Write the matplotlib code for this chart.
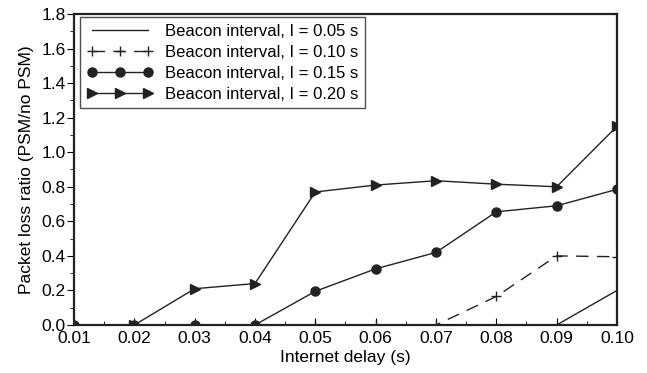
import numpy as np
import matplotlib.pyplot as plt

plt.rcParams['font.family'] = ['Liberation Sans', 'DejaVu Sans']

delay = [0.01, 0.02, 0.03, 0.04, 0.05, 0.06, 0.07, 0.08, 0.09, 0.10]
loss_005 = [0, 0, 0, 0, 0, 0, 0, 0, 0, 0.20]
loss_010 = [0, 0, 0, 0, 0, 0, 0, 0.165, 0.40, 0.395]
loss_015 = [0, 0, 0, 0, 0.195, 0.325, 0.42, 0.655, 0.69, 0.785]
loss_020 = [0, 0, 0.21, 0.24, 0.77, 0.81, 0.835, 0.815, 0.80, 1.15]
labels = ["Beacon interval, I = 0.05 s", "Beacon interval, I = 0.10 s",
          "Beacon interval, I = 0.15 s", "Beacon interval, I = 0.20 s"]

fig = plt.figure(figsize=(6.47, 3.73), dpi=100)
ax = fig.add_axes([0.1144, 0.1287, 0.8392, 0.8338])

ax.plot(delay, loss_005, color='#222222', lw=1, label=labels[0])
ax.plot(delay, loss_010, color='#222222', lw=1, ls=(0, (9, 6)), marker='+', ms=7,
        markeredgewidth=1, label=labels[1])
ax.plot(delay, loss_015, color='#222222', lw=1, marker='o', ms=6.5,
        label=labels[2])
ax.plot(delay, loss_020, color='#222222', lw=1, marker='>', ms=7.5,
        label=labels[3])

ax.set_xlim(0.01, 0.10)
ax.set_ylim(0, 1.8)
ax.set_xticks(delay)
ax.set_xticklabels([f"{d:.2f}" for d in delay])
ax.set_xticks(np.arange(0.015, 0.10, 0.01), minor=True)
ax.set_yticks(np.arange(0, 1.81, 0.2))
ax.set_yticklabels([f"{v:.1f}" for v in np.arange(0, 1.81, 0.2)])
ax.set_yticks(np.arange(0.1, 1.8, 0.2), minor=True)

ax.tick_params(axis='x', which='both', direction='in', labelsize=12.5, pad=4)
ax.tick_params(axis='x', which='major', length=5)
ax.tick_params(axis='x', which='minor', length=3)
ax.tick_params(axis='y', which='both', direction='out', labelsize=12.5, pad=1)
ax.tick_params(axis='y', which='major', length=5)
ax.tick_params(axis='y', which='minor', length=3)
for s in ax.spines.values():
    s.set_linewidth(1.6)
    s.set_color('#222222')

ax.set_xlabel("Internet delay (s)", fontsize=12.5, labelpad=3)
ax.set_ylabel("Packet loss ratio (PSM/no PSM)", fontsize=12.5, labelpad=5)

leg = ax.legend(loc='upper left', bbox_to_anchor=(0.011, 0.99), fontsize=12,
                frameon=True, fancybox=False, numpoints=3, handlelength=4.0,
                handletextpad=0.7, borderpad=0.4, labelspacing=0.36,
                borderaxespad=0)
leg.get_frame().set_edgecolor('#222222')
leg.get_frame().set_linewidth(1.0)

fig.savefig("out.png", dpi=100)
